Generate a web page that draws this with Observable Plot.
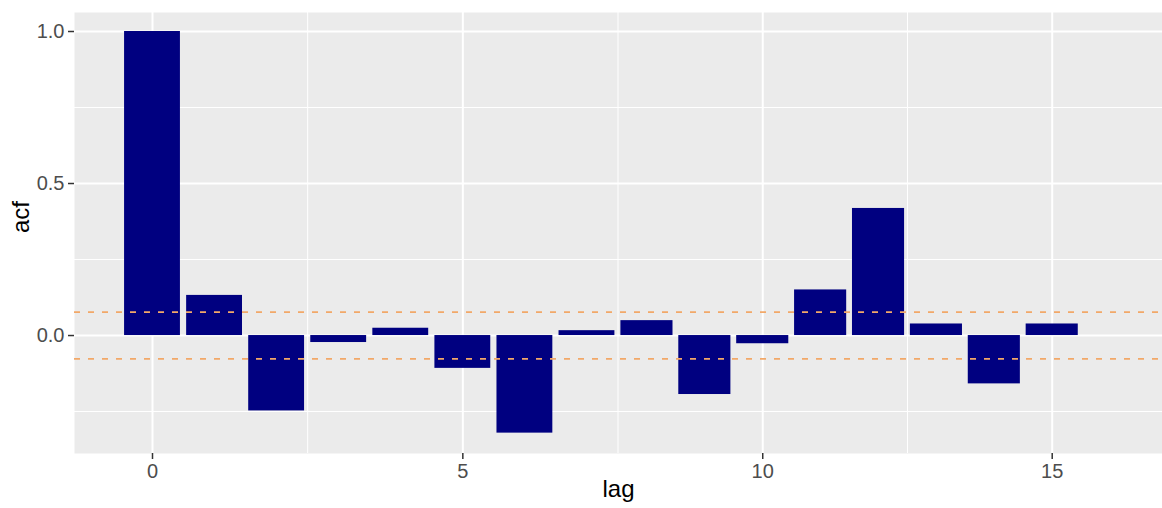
<!DOCTYPE html>
<html>
<head>
<meta charset="utf-8">
<script src="https://cdn.jsdelivr.net/npm/d3@7"></script>
<script src="https://cdn.jsdelivr.net/npm/@observablehq/plot@0.6"></script>
<style>
  html, body { margin: 0; padding: 0; background: #ffffff; }
  #chart svg { display: block; }
</style>
</head>
<body>
<div id="chart"></div>
<script>
// ---- data ----
const lags = [0, 1, 2, 3, 4, 5, 6, 7, 8, 9, 10, 11, 12, 13, 14, 15];
const acfValues = [1.0, 0.132, -0.248, -0.023, 0.024, -0.108, -0.321, 0.016, 0.049, -0.194, -0.027, 0.150, 0.418, 0.038, -0.159, 0.038];
const ciBounds = [0.077, -0.077];
const xTicks = [0, 5, 10, 15];
const xMinor = [2.5, 7.5, 12.5];
const yTicks = [0, 0.5, 1.0];
const yMinor = [-0.25, 0.25, 0.75];
const xTitle = "lag";
const yTitle = "acf";

const data = lags.map((lag, i) => ({lag, acf: acfValues[i]}));

const font = "'Liberation Sans', Arial, sans-serif";

const chart = Plot.plot({
  width: 1162,
  height: 508,
  marginLeft: 74,
  marginRight: 0,
  marginTop: 12,
  marginBottom: 55,
  style: {fontFamily: font, fontSize: "20px", background: "transparent"},
  x: {type: "linear", domain: [-1.2567, 7.5, 16.905], range: [74, 617.5, 1162]},
  y: {domain: [-0.388, 1.0625]},
  marks: [
    Plot.frame({fill: "#ebebeb"}),
    Plot.gridX(xMinor, {stroke: "#ffffff", strokeOpacity: 1, strokeWidth: 1}),
    Plot.gridY(yMinor, {stroke: "#ffffff", strokeOpacity: 1, strokeWidth: 1}),
    Plot.gridX(xTicks, {stroke: "#ffffff", strokeOpacity: 1, strokeWidth: 2}),
    Plot.gridY(yTicks, {stroke: "#ffffff", strokeOpacity: 1, strokeWidth: 2}),
    Plot.rect(data, {
      x1: d => d.lag - 0.45,
      x2: d => d.lag + 0.45,
      y1: 0,
      y2: "acf",
      fill: "#000080"
    }),
    Plot.ruleY(ciBounds, {stroke: "#f2a868", strokeWidth: 1.8, strokeDasharray: "6,8"}),
    Plot.axisX(xTicks, {
      tickSize: 6, tickPadding: 4, fontSize: 20,
      stroke: "#333333", strokeWidth: 1.5, fill: "#4d4d4d", label: null,
      tickFormat: d => String(d)
    }),
    Plot.axisY(yTicks, {
      tickSize: 6, tickPadding: 4, fontSize: 20,
      stroke: "#333333", strokeWidth: 1.5, fill: "#4d4d4d", label: null,
      tickFormat: d => d3.format(".1f")(d)
    }),
    Plot.text([xTitle], {text: d => d, frameAnchor: "bottom", dy: 43, fontSize: 24, fill: "#000000"}),
    Plot.text([yTitle], {text: d => d, frameAnchor: "left", dx: -53, rotate: -90, fontSize: 24, fill: "#000000"})
  ]
});

document.getElementById("chart").appendChild(chart);
</script>
</body>
</html>
